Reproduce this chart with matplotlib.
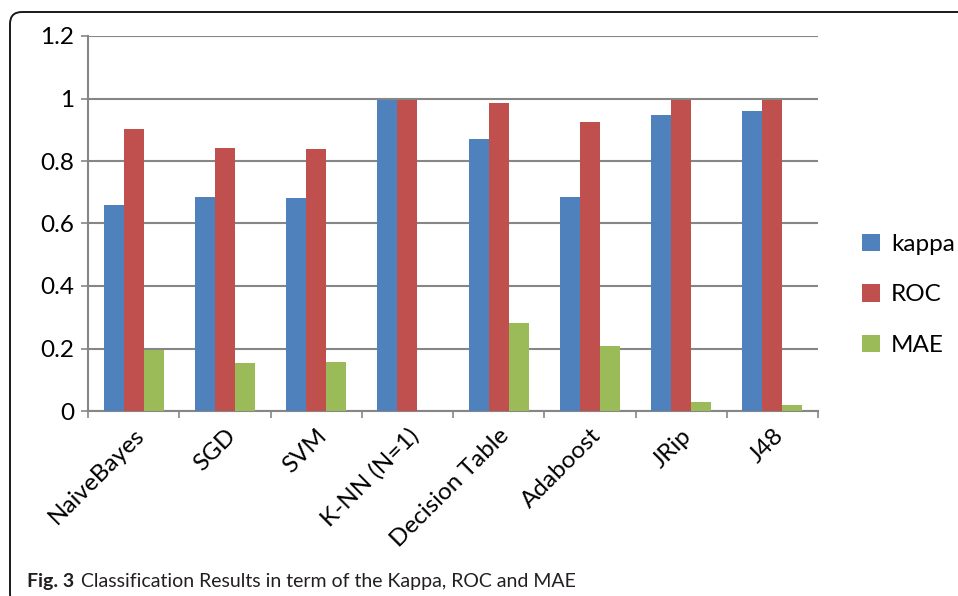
import matplotlib
matplotlib.use("Agg")
import matplotlib.pyplot as plt
import numpy as np
from matplotlib.patches import FancyBboxPatch
from matplotlib.ticker import FuncFormatter

plt.rcParams["font.family"] = ["Lato", "DejaVu Sans"]

categories = ["NaiveBayes", "SGD", "SVM", "K-NN (N=1)", "Decision Table",
              "Adaboost", "JRip", "J48"]
kappa = [0.660, 0.685, 0.681, 0.994, 0.872, 0.684, 0.946, 0.960]
roc = [0.901, 0.841, 0.839, 0.994, 0.985, 0.924, 0.996, 0.996]
mae = [0.194, 0.153, 0.157, 0.001, 0.281, 0.208, 0.030, 0.019]
series = [("kappa", kappa, "#4F81BD"),
          ("ROC", roc, "#C0504D"),
          ("MAE", mae, "#9BBB59")]

W, H = 958, 596
fig = plt.figure(figsize=(W / 100, H / 100), dpi=100)

# outer rounded frame, runs off the right and bottom edges
frame = FancyBboxPatch((0.10, -0.10), 9.8, 5.94,
                       boxstyle="round,pad=0,rounding_size=0.12",
                       transform=fig.dpi_scale_trans, fill=False,
                       edgecolor="#1a1a1a", linewidth=1.4, clip_on=False)
fig.patches.append(frame)

ax = fig.add_axes([88 / W, 1 - 411 / H, (818 - 88) / W, (411 - 36) / H])
x = np.arange(len(categories))
bw = 0.22
for i, (name, vals, col) in enumerate(series):
    ax.bar(x + (i - 1) * bw, vals, bw, color=col, label=name, zorder=3)

ax.set_xlim(-0.5, len(categories) - 0.5)
ax.set_ylim(0, 1.2)
ax.set_yticks(np.arange(0, 1.21, 0.2))
ax.yaxis.set_major_formatter(FuncFormatter(lambda v, p: "%g" % round(v, 1)))
ax.grid(axis="y", color="#868686", linewidth=1.5, zorder=0)

ax.set_xticks(np.arange(-0.5, len(categories), 1.0))
ax.set_xticklabels([])
ax.set_xticks(x, minor=True)
ax.set_xticklabels(categories, minor=True, rotation=45, ha="right",
                   rotation_mode="anchor", fontsize=17.5)
ax.tick_params(axis="x", which="minor", length=0, pad=10)
ax.tick_params(axis="x", which="major", length=5, width=1.2, color="#868686")
ax.tick_params(axis="y", length=5, width=1.2, color="#868686", labelsize=17.5,
               pad=5)

for s in ["top", "right"]:
    ax.spines[s].set_visible(False)
for s in ["left", "bottom"]:
    ax.spines[s].set_color("#868686")
    ax.spines[s].set_linewidth(1.5)

ax.legend(loc="center left", bbox_to_anchor=(1.03, 0.31), frameon=False,
          fontsize=17.5, handlelength=0.75, handleheight=0.75,
          handletextpad=0.45, labelspacing=1.2)

fig.text(27 / W, 1 - 581 / H, "Fig. 3", fontsize=14, fontweight="bold",
         va="center", color="#231f20")
fig.text(81 / W, 1 - 581 / H,
         "Classification Results in term of the Kappa, ROC and MAE",
         fontsize=14, va="center", color="#231f20")

fig.savefig("out.png", dpi=100)
